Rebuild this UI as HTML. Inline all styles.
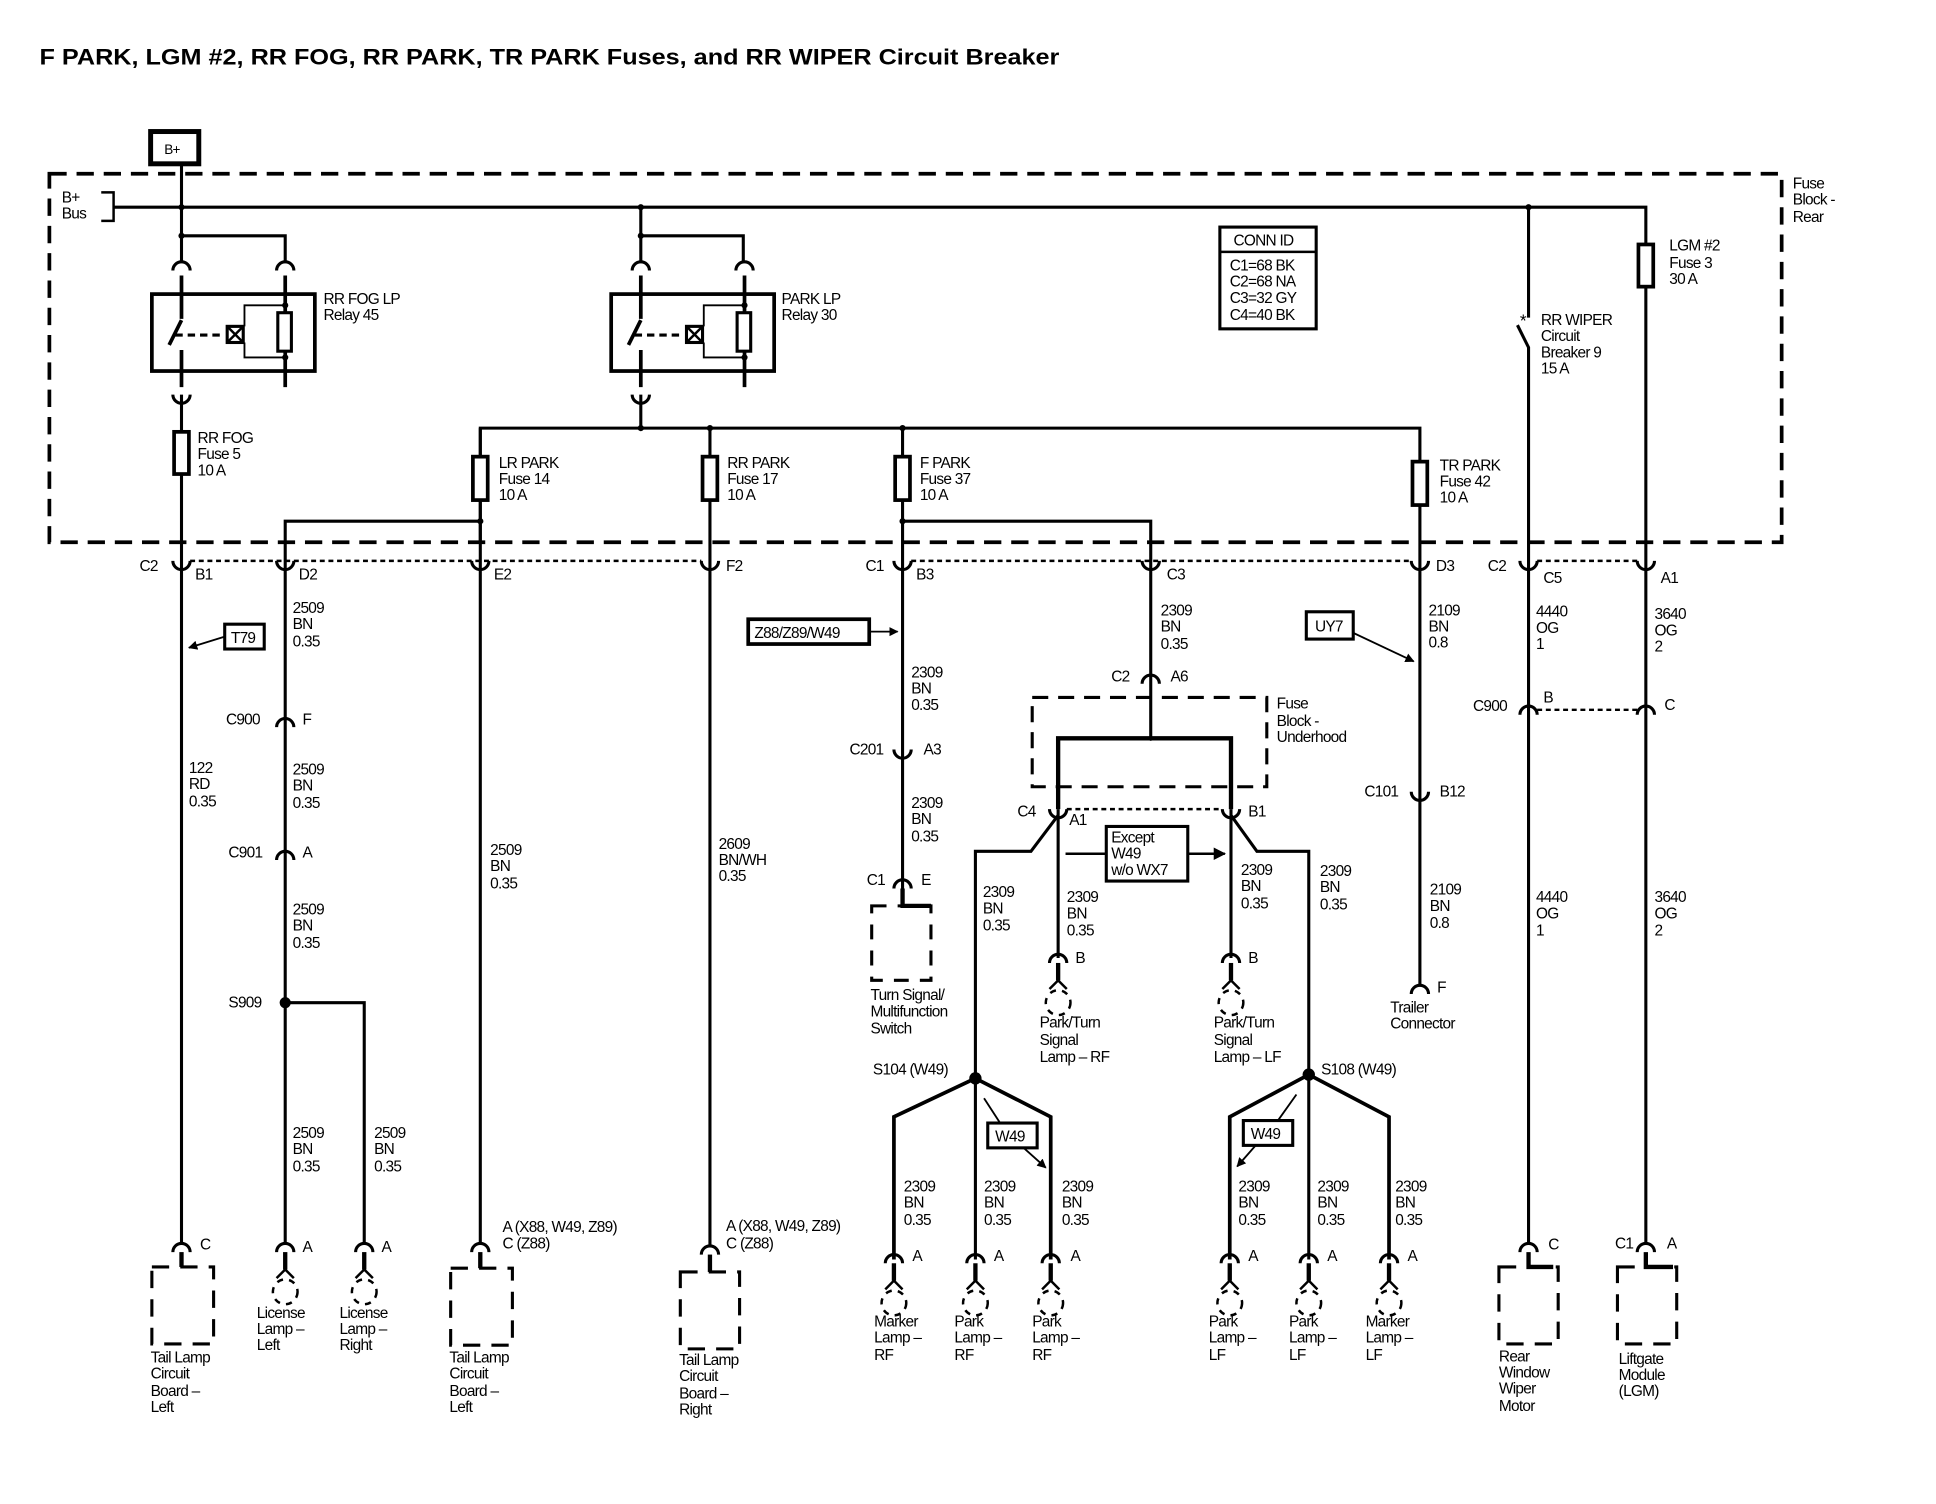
<!DOCTYPE html>
<html><head><meta charset="utf-8">
<style>
html,body{margin:0;padding:0;background:#fff;}
svg{display:block;}
text{font-family:"Liberation Sans",sans-serif;font-size:12.5px;fill:#000;letter-spacing:-0.6px;}
.b{font-weight:bold;}
</style></head><body>
<svg width="1936" height="1504" viewBox="0 0 1568 1212" preserveAspectRatio="none" xmlns="http://www.w3.org/2000/svg">
<defs>
<marker id="ah" viewBox="0 0 10 10" refX="9" refY="5" markerWidth="5" markerHeight="5" orient="auto"><path d="M0,0 L10,5 L0,10 Z" fill="#000"/></marker>
<path id="cup" d="M-7,-6 A7,7 0 0 0 7,-6" fill="none" stroke="#000" stroke-width="2.5"/>
<path id="cap" d="M-7,6 A7,7 0 0 1 7,6" fill="none" stroke="#000" stroke-width="2.5"/>
<g id="lamp" fill="none" stroke="#000">
<path d="M-7,6 A7,7 0 0 1 7,6" stroke-width="2.5"/>
<path d="M0,6 V20" stroke-width="3.5"/>
<path d="M0,20 L-7,27 M0,20 L7,27" stroke-width="2"/>
<circle cx="0" cy="38" r="10" stroke-width="2" stroke-dasharray="5,5"/>
</g>
<g id="relay" fill="none" stroke="#000">
<use href="#cap" x="147" y="212"/>
<use href="#cap" x="231" y="212"/>
<rect x="123" y="237" width="132" height="62" stroke-width="3"/>
<path d="M147,222 V257 M147,258 L137,278 M147,282 V312" stroke-width="3"/>
<path d="M231,222 V312" stroke-width="3"/>
<path d="M142,270 H180" stroke-width="2.5" stroke-dasharray="6,4"/>
<rect x="184" y="263" width="13" height="13" stroke-width="2.5"/>
<path d="M184,263 L197,276 M197,263 L184,276" stroke-width="2"/>
<rect x="225" y="252" width="11" height="31" stroke-width="2.5" fill="#fff"/>
<path d="M231,246 H198 V263 M198,276 V288 H231" stroke-width="1.5"/>
<circle cx="231" cy="246" r="2" fill="#000"/><circle cx="231" cy="288" r="2" fill="#000"/>
<use href="#cup" x="147" y="324"/>
</g>
</defs>

<text x="32" y="52" class="b" style="font-size:18px;letter-spacing:0" textLength="826" lengthAdjust="spacingAndGlyphs">F PARK, LGM #2, RR FOG, RR PARK, TR PARK Fuses, and RR WIPER Circuit Breaker</text>

<!-- B+ -->
<rect x="122" y="106" width="39" height="26" fill="none" stroke="#000" stroke-width="4"/>
<text x="133" y="124" style="font-size:11px">B+</text>

<!-- Fuse block rear dashed -->
<path d="M40,140 H1443 V437 H40 Z" fill="none" stroke="#000" stroke-width="3" stroke-dasharray="14,8"/>
<text x="1452" y="152">Fuse</text><text x="1452" y="165">Block -</text><text x="1452" y="179">Rear</text>
<text x="50" y="163">B+</text><text x="50" y="176">Bus</text>
<path d="M82,155 H92 V178 H82" fill="none" stroke="#000" stroke-width="2"/>

<g fill="none" stroke="#000" stroke-width="2.5">
<path d="M92,167 H1333 V1003"/>
<path d="M147,133 V212"/>
<path d="M147,190 H231 V212"/>
<path d="M519,167 V212 M519,190 H602 V212"/>
<path d="M147,318 V1003"/>
<path d="M519,318 V345 M389,437 V345 H1150 V795"/>
<path d="M389,345 V1003 M575,345 V1003 M731,345 V720"/>
<path d="M389,420 H231 V1003"/>
<path d="M731,420 H932 V595"/>
<path d="M1238,167 V256 M1229,262 L1238,280 V1003"/>
<path d="M231,808 H295 V1003"/>
</g>
<use href="#relay"/>
<g transform="translate(372,0)"><use href="#relay"/></g>
<text x="262" y="245">RR FOG LP</text><text x="262" y="258">Relay 45</text>
<text x="633" y="245">PARK LP</text><text x="633" y="258">Relay 30</text>

<g fill="#000">
<circle cx="147" cy="167" r="2.5"/><circle cx="519" cy="167" r="2.5"/><circle cx="1238" cy="167" r="2.5"/>
<circle cx="147" cy="190" r="2.5"/><circle cx="519" cy="190" r="2.5"/>
<circle cx="519" cy="345" r="2.5"/><circle cx="575" cy="345" r="2.5"/><circle cx="731" cy="345" r="2.5"/>
<circle cx="389" cy="420" r="2.5"/><circle cx="731" cy="420" r="2.5"/>
<circle cx="231" cy="808" r="4.5"/><circle cx="790" cy="869" r="5"/><circle cx="1060" cy="866" r="5"/>
<circle cx="932" cy="595" r="2"/>
</g>
<text x="1231" y="263" style="font-size:14px">*</text>

<!-- fuses -->
<g fill="#fff" stroke="#000" stroke-width="3">
<rect x="141" y="348" width="12" height="34"/>
<rect x="383" y="368" width="12" height="35"/>
<rect x="569" y="368" width="12" height="35"/>
<rect x="725" y="368" width="12" height="35"/>
<rect x="1144" y="372" width="12" height="35"/>
<rect x="1327" y="197" width="12" height="34"/>
</g>
<text x="160" y="357">RR FOG</text><text x="160" y="370">Fuse 5</text><text x="160" y="383">10 A</text>
<text x="404" y="377">LR PARK</text><text x="404" y="390">Fuse 14</text><text x="404" y="403">10 A</text>
<text x="589" y="377">RR PARK</text><text x="589" y="390">Fuse 17</text><text x="589" y="403">10 A</text>
<text x="745" y="377">F PARK</text><text x="745" y="390">Fuse 37</text><text x="745" y="403">10 A</text>
<text x="1166" y="379">TR PARK</text><text x="1166" y="392">Fuse 42</text><text x="1166" y="405">10 A</text>
<text x="1248" y="262">RR WIPER</text><text x="1248" y="275">Circuit</text><text x="1248" y="288">Breaker 9</text><text x="1248" y="301">15 A</text>
<text x="1352" y="202">LGM #2</text><text x="1352" y="216">Fuse 3</text><text x="1352" y="229">30 A</text>

<!-- CONN ID -->
<rect x="988" y="183" width="78" height="82" fill="none" stroke="#000" stroke-width="2.5"/>
<path d="M988,203 H1066" stroke="#000" stroke-width="2"/>
<text x="999" y="198">CONN ID</text>
<text x="996" y="218">C1=68 BK</text><text x="996" y="231">C2=68 NA</text><text x="996" y="244">C3=32 GY</text><text x="996" y="258">C4=40 BK</text>

<!-- connector row -->
<g stroke="#000" stroke-width="2" stroke-dasharray="4,3" fill="none">
<path d="M154,452 H568 M738,452 H1143 M1245,452 H1326"/>
<path d="M864,652 H990 M1245,572 H1326"/>
</g>
<g>
<use href="#cup" x="147" y="458"/><use href="#cup" x="231" y="458"/><use href="#cup" x="389" y="458"/><use href="#cup" x="575" y="458"/>
<use href="#cup" x="731" y="458"/><use href="#cup" x="932" y="458"/><use href="#cup" x="1150" y="458"/><use href="#cup" x="1238" y="458"/><use href="#cup" x="1333" y="458"/>
</g>
<text x="113" y="460">C2</text><text x="158" y="467">B1</text><text x="242" y="467">D2</text><text x="400" y="467">E2</text><text x="588" y="460">F2</text>
<text x="701" y="460">C1</text><text x="742" y="467">B3</text><text x="945" y="467">C3</text><text x="1163" y="460">D3</text>
<text x="1205" y="460">C2</text><text x="1250" y="470">C5</text><text x="1345" y="470">A1</text>

<!-- x=147 -->
<rect x="182" y="503" width="32" height="20" fill="none" stroke="#000" stroke-width="2.5"/>
<text x="187" y="518">T79</text>
<path d="M182,513 L153,522" stroke="#000" stroke-width="1.5" marker-end="url(#ah)"/>
<text x="153" y="623">122</text><text x="153" y="636">RD</text><text x="153" y="650">0.35</text>

<!-- x=231 -->
<text x="237" y="494">2509</text><text x="237" y="507">BN</text><text x="237" y="521">0.35</text>
<use href="#cap" x="231" y="580"/><text x="183" y="584">C900</text><text x="245" y="584">F</text>
<text x="237" y="624">2509</text><text x="237" y="637">BN</text><text x="237" y="651">0.35</text>
<use href="#cap" x="231" y="687"/><text x="185" y="691">C901</text><text x="245" y="691">A</text>
<text x="237" y="737">2509</text><text x="237" y="750">BN</text><text x="237" y="764">0.35</text>
<text x="185" y="812">S909</text>
<text x="237" y="917">2509</text><text x="237" y="930">BN</text><text x="237" y="944">0.35</text>
<text x="303" y="917">2509</text><text x="303" y="930">BN</text><text x="303" y="944">0.35</text>
<text x="397" y="689">2509</text><text x="397" y="702">BN</text><text x="397" y="716">0.35</text>
<text x="582" y="684">2609</text><text x="582" y="697">BN/WH</text><text x="582" y="710">0.35</text>

<!-- bottom left components -->
<g fill="none" stroke="#000">
<use href="#cap" x="147" y="1003"/><path d="M147,1009 V1021" stroke-width="3.5"/>
<rect x="123" y="1021" width="50" height="62" stroke-width="2.5" stroke-dasharray="14,9"/>
<use href="#cap" x="389" y="1003"/><path d="M389,1009 V1022" stroke-width="3.5"/>
<rect x="365" y="1022" width="50" height="62" stroke-width="2.5" stroke-dasharray="14,9"/>
<use href="#cap" x="575" y="1005"/><path d="M575,1011 V1025" stroke-width="3.5"/>
<rect x="551" y="1025" width="48" height="62" stroke-width="2.5" stroke-dasharray="14,9"/>
</g>
<use href="#lamp" x="231" y="1003"/><use href="#lamp" x="295" y="1003"/>
<text x="162" y="1007">C</text><text x="245" y="1009">A</text><text x="309" y="1009">A</text>
<text x="407" y="993">A (X88, W49, Z89)</text><text x="407" y="1006">C (Z88)</text>
<text x="588" y="992">A (X88, W49, Z89)</text><text x="588" y="1006">C (Z88)</text>
<text x="122" y="1098">Tail Lamp</text><text x="122" y="1111">Circuit</text><text x="122" y="1125">Board –</text><text x="122" y="1138">Left</text>
<text x="208" y="1062">License</text><text x="208" y="1075">Lamp –</text><text x="208" y="1088">Left</text>
<text x="275" y="1062">License</text><text x="275" y="1075">Lamp –</text><text x="275" y="1088">Right</text>
<text x="364" y="1098">Tail Lamp</text><text x="364" y="1111">Circuit</text><text x="364" y="1125">Board –</text><text x="364" y="1138">Left</text>
<text x="550" y="1100">Tail Lamp</text><text x="550" y="1113">Circuit</text><text x="550" y="1127">Board –</text><text x="550" y="1140">Right</text>

<!-- x=731 -->
<rect x="606" y="499" width="98" height="20" fill="none" stroke="#000" stroke-width="3"/>
<text x="611" y="514">Z88/Z89/W49</text>
<path d="M704,509 H727" stroke="#000" stroke-width="1.5" marker-end="url(#ah)"/>
<text x="738" y="546">2309</text><text x="738" y="559">BN</text><text x="738" y="572">0.35</text>
<use href="#cup" x="731" y="610"/><text x="688" y="608">C201</text><text x="748" y="608">A3</text>
<text x="738" y="651">2309</text><text x="738" y="664">BN</text><text x="738" y="678">0.35</text>
<use href="#cap" x="731" y="710"/><text x="702" y="713">C1</text><text x="746" y="713">E</text>
<path d="M731,716 V730 H754" fill="none" stroke="#000" stroke-width="3.5"/>
<rect x="706" y="730" width="48" height="60" fill="none" stroke="#000" stroke-width="2.5" stroke-dasharray="12,9"/>
<text x="705" y="806">Turn Signal/</text><text x="705" y="819">Multifunction</text><text x="705" y="833">Switch</text>

<!-- x=932 -->
<text x="940" y="496">2309</text><text x="940" y="509">BN</text><text x="940" y="523">0.35</text>
<use href="#cap" x="932" y="545"/><text x="900" y="549">C2</text><text x="948" y="549">A6</text>
<rect x="836" y="562" width="190" height="72" fill="none" stroke="#000" stroke-width="2.5" stroke-dasharray="13,8"/>
<text x="1034" y="571">Fuse</text><text x="1034" y="585">Block -</text><text x="1034" y="598">Underhood</text>
<g fill="none" stroke="#000">
<path d="M857,652 V595 H997 V652" stroke-width="3.5"/>
<path d="M857,652 V772 M997,652 V772" stroke-width="2.5"/>
<path d="M857,657 L835,686 H790 V1015 M997,657 L1018,686 H1060 V1015" stroke-width="2.5"/>
<path d="M790,869 L724,900 V1015 M790,869 L851,900 V1015" stroke-width="3"/>
<path d="M1060,866 L996,900 V1015 M1060,866 L1125,900 V1015" stroke-width="3"/>
</g>
<use href="#cup" x="857" y="658"/><use href="#cup" x="997" y="658"/>
<text x="824" y="658">C4</text><text x="866" y="665">A1</text><text x="1011" y="658">B1</text>
<rect x="896" y="666" width="66" height="44" fill="#fff" stroke="#000" stroke-width="2.5"/>
<text x="900" y="679">Except</text><text x="900" y="692">W49</text><text x="900" y="705">w/o WX7</text>
<path d="M896,688 H863 M962,688 H992" stroke="#000" stroke-width="2" marker-end="url(#ah)"/>
<text x="796" y="723">2309</text><text x="796" y="736">BN</text><text x="796" y="750">0.35</text>
<text x="864" y="727">2309</text><text x="864" y="740">BN</text><text x="864" y="754">0.35</text>
<text x="1005" y="705">2309</text><text x="1005" y="718">BN</text><text x="1005" y="732">0.35</text>
<text x="1069" y="706">2309</text><text x="1069" y="719">BN</text><text x="1069" y="733">0.35</text>
<use href="#lamp" x="857" y="770"/><use href="#lamp" x="997" y="770"/>
<text x="871" y="776">B</text><text x="1011" y="776">B</text>
<text x="842" y="828">Park/Turn</text><text x="842" y="842">Signal</text><text x="842" y="856">Lamp – RF</text>
<text x="983" y="828">Park/Turn</text><text x="983" y="842">Signal</text><text x="983" y="856">Lamp – LF</text>

<text x="707" y="866">S104 (W49)</text><text x="1070" y="866">S108 (W49)</text>
<rect x="800" y="905" width="40" height="20" fill="#fff" stroke="#000" stroke-width="2.5"/><text x="806" y="920">W49</text>
<path d="M810,905 L797,885 M829,925 L847,941" stroke="#000" stroke-width="1.5" marker-end="url(#ah)"/>
<rect x="1007" y="903" width="40" height="20" fill="#fff" stroke="#000" stroke-width="2.5"/><text x="1013" y="918">W49</text>
<path d="M1035,903 L1050,882 M1017,923 L1002,940" stroke="#000" stroke-width="1.5" marker-end="url(#ah)"/>
<text x="732" y="960">2309</text><text x="732" y="973">BN</text><text x="732" y="987">0.35</text>
<text x="797" y="960">2309</text><text x="797" y="973">BN</text><text x="797" y="987">0.35</text>
<text x="860" y="960">2309</text><text x="860" y="973">BN</text><text x="860" y="987">0.35</text>
<text x="1003" y="960">2309</text><text x="1003" y="973">BN</text><text x="1003" y="987">0.35</text>
<text x="1067" y="960">2309</text><text x="1067" y="973">BN</text><text x="1067" y="987">0.35</text>
<text x="1130" y="960">2309</text><text x="1130" y="973">BN</text><text x="1130" y="987">0.35</text>
<use href="#lamp" x="724" y="1012"/><use href="#lamp" x="790" y="1012"/><use href="#lamp" x="851" y="1012"/>
<use href="#lamp" x="996" y="1012"/><use href="#lamp" x="1060" y="1012"/><use href="#lamp" x="1125" y="1012"/>
<text x="739" y="1016">A</text><text x="805" y="1016">A</text><text x="867" y="1016">A</text>
<text x="1011" y="1016">A</text><text x="1075" y="1016">A</text><text x="1140" y="1016">A</text>
<text x="708" y="1069">Marker</text><text x="708" y="1082">Lamp –</text><text x="708" y="1096">RF</text>
<text x="773" y="1069">Park</text><text x="773" y="1082">Lamp –</text><text x="773" y="1096">RF</text>
<text x="836" y="1069">Park</text><text x="836" y="1082">Lamp –</text><text x="836" y="1096">RF</text>
<text x="979" y="1069">Park</text><text x="979" y="1082">Lamp –</text><text x="979" y="1096">LF</text>
<text x="1044" y="1069">Park</text><text x="1044" y="1082">Lamp –</text><text x="1044" y="1096">LF</text>
<text x="1106" y="1069">Marker</text><text x="1106" y="1082">Lamp –</text><text x="1106" y="1096">LF</text>

<!-- x=1150 -->
<rect x="1058" y="493" width="38" height="22" fill="none" stroke="#000" stroke-width="2.5"/><text x="1065" y="509">UY7</text>
<path d="M1096,510 L1145,533" stroke="#000" stroke-width="1.5" marker-end="url(#ah)"/>
<text x="1157" y="496">2109</text><text x="1157" y="509">BN</text><text x="1157" y="522">0.8</text>
<use href="#cup" x="1150" y="644"/><text x="1105" y="642">C101</text><text x="1166" y="642">B12</text>
<text x="1158" y="721">2109</text><text x="1158" y="734">BN</text><text x="1158" y="748">0.8</text>
<use href="#cap" x="1150" y="795"/><text x="1164" y="800">F</text>
<text x="1126" y="816">Trailer</text><text x="1126" y="829">Connector</text>

<!-- x=1238 / 1333 -->
<text x="1244" y="497">4440</text><text x="1244" y="510">OG</text><text x="1244" y="523">1</text>
<text x="1340" y="499">3640</text><text x="1340" y="512">OG</text><text x="1340" y="525">2</text>
<use href="#cap" x="1238" y="570"/><use href="#cap" x="1333" y="570"/>
<text x="1193" y="573">C900</text><text x="1250" y="566">B</text><text x="1348" y="572">C</text>
<text x="1244" y="727">4440</text><text x="1244" y="740">OG</text><text x="1244" y="754">1</text>
<text x="1340" y="727">3640</text><text x="1340" y="740">OG</text><text x="1340" y="754">2</text>
<use href="#cap" x="1238" y="1003"/><use href="#cap" x="1333" y="1003"/>
<path d="M1238,1009 V1021 H1258 M1333,1009 V1021 H1355" fill="none" stroke="#000" stroke-width="3.5"/>
<rect x="1214" y="1021" width="48" height="62" fill="none" stroke="#000" stroke-width="2.5" stroke-dasharray="14,9"/>
<rect x="1310" y="1021" width="48" height="62" fill="none" stroke="#000" stroke-width="2.5" stroke-dasharray="14,9"/>
<text x="1254" y="1007">C</text><text x="1308" y="1006">C1</text><text x="1350" y="1006">A</text>
<text x="1214" y="1097">Rear</text><text x="1214" y="1110">Window</text><text x="1214" y="1123">Wiper</text><text x="1214" y="1137">Motor</text>
<text x="1311" y="1099">Liftgate</text><text x="1311" y="1112">Module</text><text x="1311" y="1125">(LGM)</text>
</svg>
</body></html>
